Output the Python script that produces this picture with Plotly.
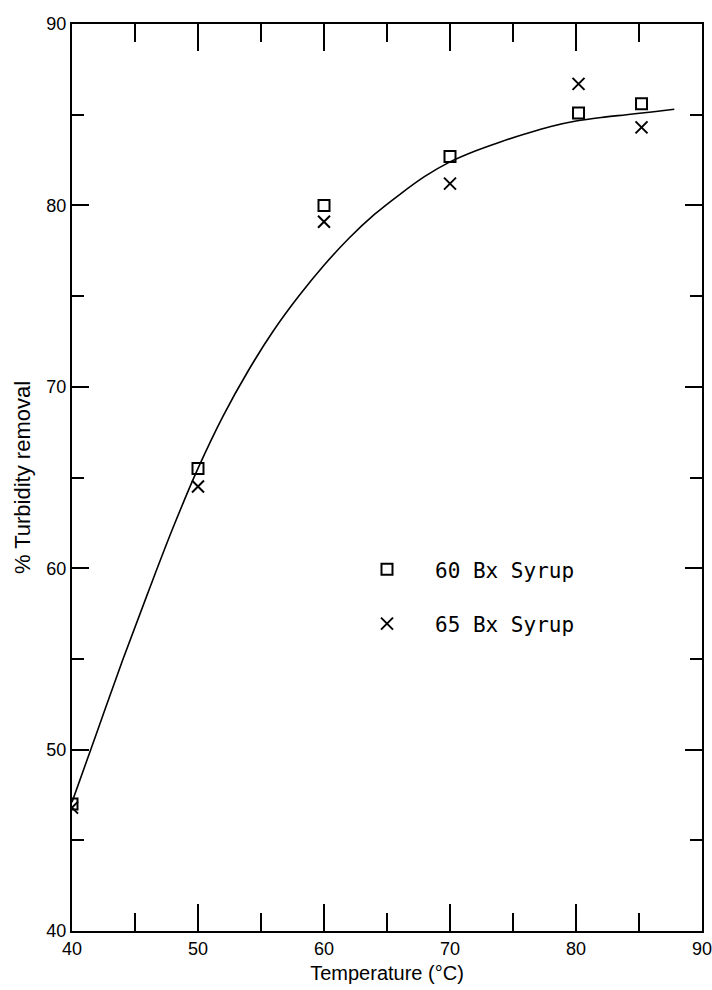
import plotly.graph_objects as go

# Measured points
temp_pts = [40, 50, 60, 70, 80.2, 85.2]
syrup60 = [47.0, 65.5, 80.0, 82.7, 85.1, 85.6]
syrup65 = [46.8, 64.5, 79.1, 81.2, 86.7, 84.3]

# Fitted curve
curve_x = [40, 42, 44, 46, 48, 50, 52, 54, 56, 58, 60, 62, 64, 66, 68, 70, 72, 74, 76, 78, 80, 82, 84, 86, 87.8]
curve_y = [47.1, 51.0, 54.9, 58.6, 62.2, 65.5, 68.4, 70.9, 73.1, 75.0, 76.7, 78.2, 79.5, 80.6, 81.6, 82.4,
           83.0, 83.5, 83.95, 84.35, 84.65, 84.85, 85.0, 85.15, 85.3]

tick_vals = [40, 50, 60, 70, 80, 90]
tick_text = ["40", "50", "60", "70", "80", "90"]

fig = go.Figure()
fig.add_trace(go.Scatter(x=curve_x, y=curve_y, mode="lines", line=dict(color="black", width=1.6, shape="spline"),
                         showlegend=False, hoverinfo="skip"))
fig.add_trace(go.Scatter(x=temp_pts, y=syrup60, mode="markers", name="60 Bx Syrup", legendgroup="a",
                         marker=dict(symbol="square-open", size=11, color="black", line=dict(width=2, color="black"))))
fig.add_trace(go.Scatter(x=temp_pts, y=syrup65, mode="markers", name="65 Bx Syrup", legendgroup="b",
                         marker=dict(symbol="x-thin-open", size=12, color="black", line=dict(width=2, color="black"))))

axis_common = dict(
    showgrid=False, zeroline=False, showline=True, linecolor="black", linewidth=2,
    mirror="ticks", ticks="inside", tickcolor="black", tickwidth=2,
    tickvals=tick_vals, ticktext=tick_text, automargin=False, ticklabeloverflow="allow",
    tickfont=dict(family="Liberation Sans, Arial, sans-serif", size=18, color="black"),
)

fig.update_xaxes(range=[40, 90], ticklen=27,
                 minor=dict(dtick=5, tick0=40, ticks="inside", ticklen=18, tickwidth=2, tickcolor="black"),
                 title=dict(text="Temperature (°C)", font=dict(family="Liberation Sans, Arial, sans-serif", size=20, color="black"),
                            standoff=8),
                 **axis_common)
fig.update_yaxes(range=[40, 90], ticklen=17,
                 minor=dict(dtick=5, tick0=40, ticks="inside", ticklen=12, tickwidth=2, tickcolor="black"),
                 title=dict(text="% Turbidity removal", font=dict(family="Liberation Sans, Arial, sans-serif", size=22, color="black"),
                            standoff=10),
                 **axis_common)

fig.update_layout(
    width=712, height=990,
    margin=dict(l=72, r=10, t=24, b=59),
    plot_bgcolor="white", paper_bgcolor="white",
    legend=dict(x=0.4238, y=0.421, xanchor="left", yanchor="top", bgcolor="rgba(0,0,0,0)",
                font=dict(family="DejaVu Sans Mono, monospace", size=21, color="black"),
                tracegroupgap=24, itemwidth=86),
)

fig.write_html("out.html")
